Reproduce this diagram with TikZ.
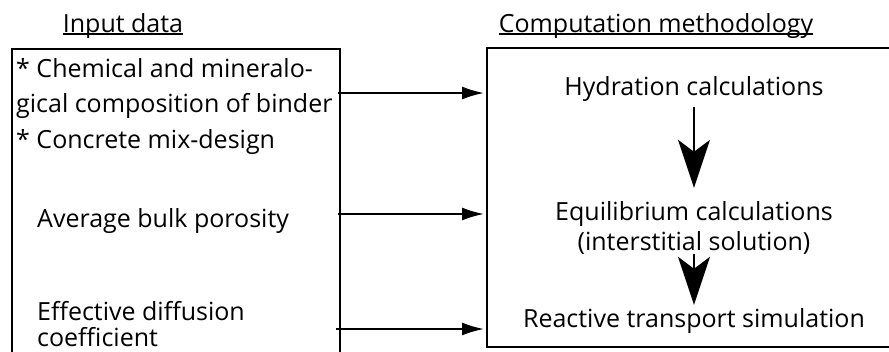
\documentclass[tikz,border=0pt]{standalone}
\usepackage{fontspec}
\setmainfont{Open Sans}
\usetikzlibrary{arrows.meta}

\begin{document}
\begin{tikzpicture}[x=1pt,y=-1pt,
  every node/.style={inner sep=2pt,font=\fontsize{25}{30}\selectfont},
  frame/.style={draw,line width=2pt,inner sep=0pt,anchor=north west},
  heading/.style={inner sep=0pt,anchor=base},
  feed/.style={-{Latex[length=22pt,width=13pt]},line width=2pt,shorten >=2pt},
  flow/.style={-{Stealth[length=48pt,width=32pt,inset=12pt]},line width=2pt}]
  \useasboundingbox (0,0) rectangle (889,351);
  \clip (0,0) rectangle (889,351);

  \node[frame,minimum width=328pt,minimum height=330pt] (inbox) at (11,48) {};
  \node[frame,minimum width=420pt,minimum height=299pt] (outbox) at (486,47) {};

  \node[heading] (intitle) at (123,32) {Input data};
  \node[heading] (outtitle) at (656,32) {Computation methodology};
  \draw[line width=1.2pt] ([yshift=-2pt]intitle.base west) -- ([yshift=-2pt]intitle.base east);
  \draw[line width=1.2pt] ([yshift=-2pt]outtitle.base west) -- ([yshift=-2pt]outtitle.base east);

  \node[anchor=base west,align=left,font=\fontsize{25}{35}\selectfont] (chem) at (14,112)
    {* Chemical and mineralo-\\gical composition of binder};
  \node[anchor=base west] (mix) at (14,148) {* Concrete mix-design};
  \node[anchor=base west] (poro) at (35,227) {Average bulk porosity};
  \node[anchor=base west,align=left,font=\fontsize{25}{26}\selectfont] (diff) at (35,346)
    {Effective diffusion\\coefficient};

  \node[anchor=base] (hyd) at (694,95) {Hydration calculations};
  \node[anchor=base,align=center] (equ) at (694,250) {Equilibrium calculations\\(interstitial solution)};
  \node[anchor=base] (react) at (694,327) {Reactive transport simulation};

  \coordinate (p1) at (338,93);
  \coordinate (p2) at (338,214);
  \coordinate (p3) at (336,329);
  \path[feed] (p1) edge (p1 -| outbox.west)
              (p2) edge (p2 -| outbox.west)
              (p3) edge (p3 -| outbox.west);

  \path[flow] (hyd) edge[shorten <=4pt,shorten >=11pt] (equ)
              (equ) edge[shorten <=-2pt,shorten >=1pt] (react);
\end{tikzpicture}
\end{document}
